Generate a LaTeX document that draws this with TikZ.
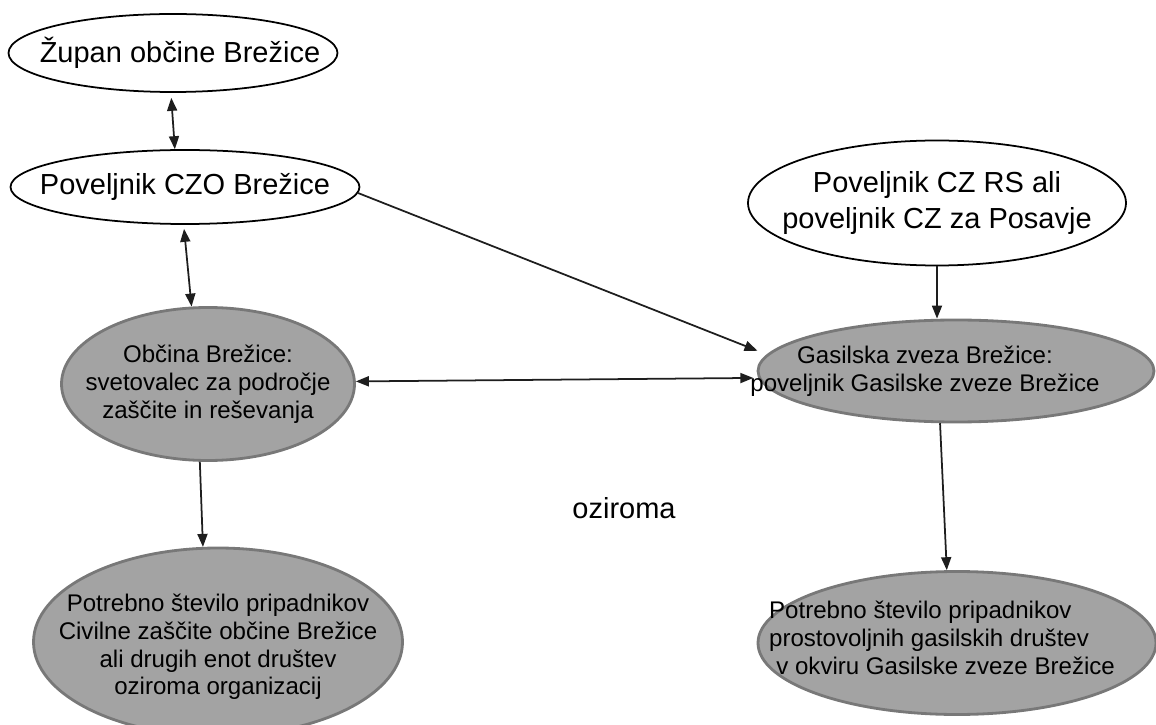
\documentclass[tikz,border=0pt]{standalone}
\usepackage{fontspec}
\setmainfont{Liberation Sans}
\usetikzlibrary{shapes.geometric,arrows.meta}
\definecolor{ellfill}{RGB}{163,163,163}
\definecolor{elledge}{RGB}{120,120,120}
\definecolor{linkcol}{RGB}{30,30,30}
\tikzset{
	whiteell/.style={ellipse, draw=black, line width=1pt, fill=white, inner sep=0pt},
	grayell/.style={ellipse, draw=elledge, line width=1.6pt, fill=ellfill, inner sep=0pt},
	bigtxt/.style={font=\fontsize{16.5}{21}\selectfont, align=center, inner sep=0pt},
	smalltxt/.style={font=\fontsize{13.7}{15.8}\selectfont, align=center, inner sep=0pt},
	arr/.style={draw=linkcol, line width=1pt, -{Triangle[length=0.26cm, width=0.2cm]}},
	dblarr/.style={draw=linkcol, line width=1pt, {Triangle[length=0.26cm, width=0.2cm]}-{Triangle[length=0.26cm, width=0.2cm]}}
}

\begin{document}
\begin{tikzpicture}
		%%%%% START %%%%%
		\useasboundingbox (0,0) rectangle (23.12,-14.5);
		
		% white ones
		\node[whiteell, minimum width=6.58cm, minimum height=1.56cm, label={[bigtxt, xshift=0.14cm]center:{Župan občine Brežice}}] (zupan) at (3.46,-1.06) {};
		\node[whiteell, minimum width=6.98cm, minimum height=1.48cm, label={[bigtxt]center:{Poveljnik CZO Brežice}}] (czo) at (3.70,-3.74) {};
		\node[whiteell, minimum width=7.56cm, minimum height=2.50cm, label={[bigtxt]center:{Poveljnik CZ RS ali\\poveljnik CZ za Posavje}}] (czrs) at (18.74,-4.06) {};
		
		% grey ones
		\node[grayell, minimum width=5.86cm, minimum height=3.06cm, label={[smalltxt]center:{Občina Brežice:\\svetovalec za področje\\zaščite in reševanja}}] (obcina) at (4.16,-7.68) {};
		\node[grayell, minimum width=7.92cm, minimum height=2.04cm, label={[smalltxt, xshift=-0.62cm]center:{Gasilska zveza Brežice:\\poveljnik Gasilske zveze Brežice}}] (gz) at (19.12,-7.42) {};
		\node[grayell, minimum width=7.38cm, minimum height=3.76cm, label={[smalltxt, yshift=-0.1cm]center:{Potrebno število pripadnikov\\Civilne zaščite občine Brežice\\ali drugih enot društev\\oziroma organizacij}}] (enote) at (4.36,-12.84) {};
		\node[grayell, minimum width=7.96cm, minimum height=2.86cm, label={[smalltxt, align=left, xshift=-0.30cm, yshift=0.1cm]center:{Potrebno število pripadnikov\\prostovoljnih gasilskih društev\\\hspace*{0.3em}v okviru Gasilske zveze Brežice}}] (pgd) at (19.14,-12.86) {};
		
		\node[bigtxt, anchor=base] (ozir) at (12.48,-10.36) {oziroma};
		
		% links
		\draw[dblarr, shorten <=0.1cm] (zupan.-93) -- (czo.105);
		\draw[dblarr, shorten <=0.08cm] (czo.-92) -- (obcina.102);
		\draw[arr, shorten >=0.2cm] (czo.-2) -- (gz.175);
		\draw[arr] (czrs.south) -- (czrs.south |- gz.north);
		\draw[dblarr, shorten >=0.1cm] (obcina.1) -- (gz.182);
		\draw[arr] (obcina.-96) -- (enote.99);
		\draw[arr] (gz.-107) -- (pgd.98);
		
		%%%%% END %%%%%
\end{tikzpicture}
\end{document}
